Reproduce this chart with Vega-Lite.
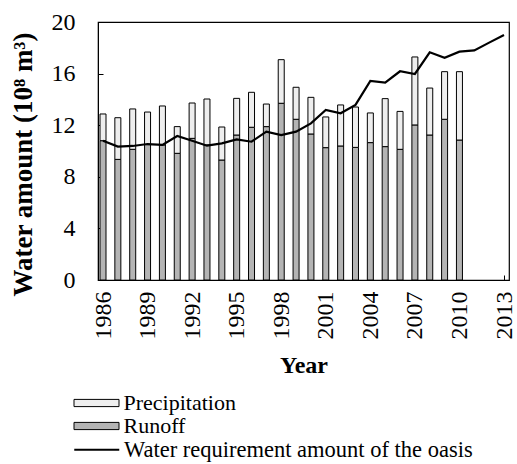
{
  "$schema": "https://vega.github.io/schema/vega-lite/v6.json",
  "autosize": "none",
  "width": 411,
  "height": 258,
  "padding": {"left": 98, "top": 22, "right": 8, "bottom": 184},
  "background": "white",
  "config": {
    "font": "Liberation Serif",
    "view": {"stroke": "black", "strokeWidth": 1.2},
    "axis": {"labelColor": "black", "titleColor": "black", "domainColor": "black", "tickColor": "black", "grid": false, "labelFont": "Liberation Serif", "titleFont": "Liberation Serif"},
    "legend": {"labelFont": "Liberation Serif", "labelFontSize": 22, "labelColor": "black", "labelLimit": 600}
  },
  "datasets": {
    "bars": [
      {"year": 1986, "type": "Runoff", "value": 10.8}, {"year": 1986, "type": "Precipitation", "value": 2.07},
      {"year": 1987, "type": "Runoff", "value": 9.35}, {"year": 1987, "type": "Precipitation", "value": 3.23},
      {"year": 1988, "type": "Runoff", "value": 10.13}, {"year": 1988, "type": "Precipitation", "value": 3.13},
      {"year": 1989, "type": "Runoff", "value": 10.5}, {"year": 1989, "type": "Precipitation", "value": 2.52},
      {"year": 1990, "type": "Runoff", "value": 10.47}, {"year": 1990, "type": "Precipitation", "value": 3.02},
      {"year": 1991, "type": "Runoff", "value": 9.82}, {"year": 1991, "type": "Precipitation", "value": 2.07},
      {"year": 1992, "type": "Runoff", "value": 10.98}, {"year": 1992, "type": "Precipitation", "value": 2.74},
      {"year": 1993, "type": "Runoff", "value": 10.47}, {"year": 1993, "type": "Precipitation", "value": 3.56},
      {"year": 1994, "type": "Runoff", "value": 9.3}, {"year": 1994, "type": "Precipitation", "value": 2.56},
      {"year": 1995, "type": "Runoff", "value": 11.24}, {"year": 1995, "type": "Precipitation", "value": 2.84},
      {"year": 1996, "type": "Runoff", "value": 11.84}, {"year": 1996, "type": "Precipitation", "value": 2.71},
      {"year": 1997, "type": "Runoff", "value": 11.89}, {"year": 1997, "type": "Precipitation", "value": 1.75},
      {"year": 1998, "type": "Runoff", "value": 13.7}, {"year": 1998, "type": "Precipitation", "value": 3.38},
      {"year": 1999, "type": "Runoff", "value": 12.46}, {"year": 1999, "type": "Precipitation", "value": 2.48},
      {"year": 2000, "type": "Runoff", "value": 11.32}, {"year": 2000, "type": "Precipitation", "value": 2.84},
      {"year": 2001, "type": "Runoff", "value": 10.26}, {"year": 2001, "type": "Precipitation", "value": 2.38},
      {"year": 2002, "type": "Runoff", "value": 10.39}, {"year": 2002, "type": "Precipitation", "value": 3.18},
      {"year": 2003, "type": "Runoff", "value": 10.28}, {"year": 2003, "type": "Precipitation", "value": 3.13},
      {"year": 2004, "type": "Runoff", "value": 10.65}, {"year": 2004, "type": "Precipitation", "value": 2.3},
      {"year": 2005, "type": "Runoff", "value": 10.34}, {"year": 2005, "type": "Precipitation", "value": 3.72},
      {"year": 2006, "type": "Runoff", "value": 10.13}, {"year": 2006, "type": "Precipitation", "value": 2.94},
      {"year": 2007, "type": "Runoff", "value": 12.02}, {"year": 2007, "type": "Precipitation", "value": 5.27},
      {"year": 2008, "type": "Runoff", "value": 11.24}, {"year": 2008, "type": "Precipitation", "value": 3.64},
      {"year": 2009, "type": "Runoff", "value": 12.46}, {"year": 2009, "type": "Precipitation", "value": 3.69},
      {"year": 2010, "type": "Runoff", "value": 10.85}, {"year": 2010, "type": "Precipitation", "value": 5.3}
    ],
    "demand": [
      {"year": 1986, "value": 10.8}, {"year": 1987, "value": 10.34}, {"year": 1988, "value": 10.39},
      {"year": 1989, "value": 10.54}, {"year": 1990, "value": 10.47}, {"year": 1991, "value": 11.16},
      {"year": 1992, "value": 10.8}, {"year": 1993, "value": 10.41}, {"year": 1994, "value": 10.59},
      {"year": 1995, "value": 10.9}, {"year": 1996, "value": 10.72}, {"year": 1997, "value": 11.5},
      {"year": 1998, "value": 11.24}, {"year": 1999, "value": 11.5}, {"year": 2000, "value": 12.14},
      {"year": 2001, "value": 13.18}, {"year": 2002, "value": 12.92}, {"year": 2003, "value": 13.57},
      {"year": 2004, "value": 15.43}, {"year": 2005, "value": 15.3}, {"year": 2006, "value": 16.18},
      {"year": 2007, "value": 15.97}, {"year": 2008, "value": 17.65}, {"year": 2009, "value": 17.23},
      {"year": 2010, "value": 17.7}, {"year": 2011, "value": 17.8}, {"year": 2012, "value": 18.4},
      {"year": 2013, "value": 19.0}
    ]
  },
  "layer": [
    {
      "data": {"name": "bars"},
      "mark": {"type": "bar", "size": 6, "stroke": "black", "strokeWidth": 1},
      "encoding": {
        "x": {
          "field": "year", "type": "quantitative",
          "scale": {"domain": [1986, 2013], "nice": false, "zero": false},
          "axis": {
            "values": [1986, 1989, 1992, 1995, 1998, 2001, 2004, 2007, 2010, 2013],
            "format": "d", "labelAngle": -90, "labelAlign": "right", "labelBaseline": "middle",
            "labelFontSize": 24, "labelPadding": 16, "tickSize": -5, "labelFlush": false, "labelOverlap": false,
            "title": "Year", "titleFontSize": 24, "titleFontWeight": "bold", "titlePadding": 14
          }
        },
        "y": {
          "field": "value", "type": "quantitative", "stack": "zero",
          "scale": {"domain": [0, 20], "nice": false},
          "axis": {
            "values": [0, 4, 8, 12, 16, 20], "labelFontSize": 24, "tickSize": -5, "labelPadding": 28, "labelOverlap": false,
            "title": "Water amount (10⁸ m³)", "titleFontSize": 27, "titleFontWeight": "bold", "titlePadding": 14, "titleY": 142
          }
        },
        "order": {"field": "type", "sort": "descending"},
        "fill": {
          "field": "type", "type": "nominal",
          "scale": {"domain": ["Precipitation", "Runoff"], "range": ["#eeeeee", "#b4b4b4"]},
          "legend": {
            "orient": "none", "legendX": -12.5, "legendY": 370, "title": null,
            "symbolType": "M-2.5,-0.4H2.5V0.4H-2.5Z", "symbolSize": 324,
            "symbolStrokeColor": "black", "symbolStrokeWidth": 1, "symbolOpacity": 1,
            "labelOffset": 16, "rowPadding": 1
          }
        }
      }
    },
    {
      "data": {"name": "demand"},
      "mark": {"type": "line", "strokeWidth": 2.2},
      "encoding": {
        "x": {"field": "year", "type": "quantitative"},
        "y": {"field": "value", "type": "quantitative"},
        "stroke": {
          "datum": "Water requirement amount of the oasis",
          "scale": {"range": ["black"]},
          "legend": {
            "orient": "none", "legendX": -12.5, "legendY": 416.5, "title": null, "labelFontSize": 22.5,
            "symbolType": "M-2.5,0H2.5", "symbolSize": 324, "symbolStrokeWidth": 2, "labelOffset": 16
          }
        }
      }
    }
  ],
  "resolve": {"scale": {"fill": "independent"}}
}
